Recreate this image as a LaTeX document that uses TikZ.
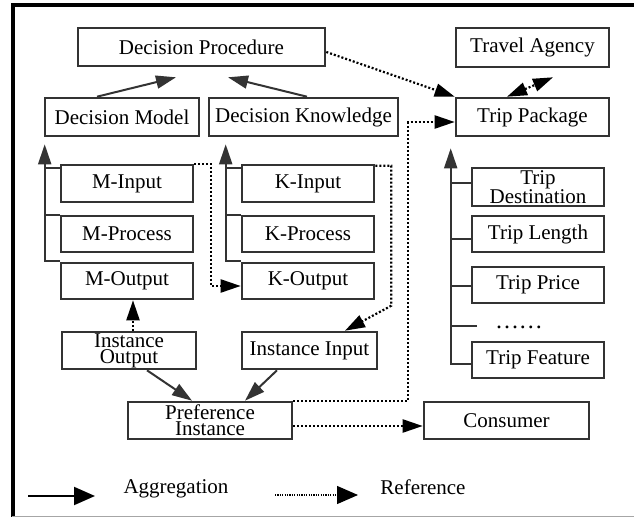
\documentclass[tikz,border=0pt]{standalone}
\usepackage{fontspec}
\setmainfont{Liberation Serif}
\usetikzlibrary{arrows.meta,calc}
\definecolor{edge}{HTML}{333333}
\tikzset{
  box/.style={draw=edge,line width=2.6pt,inner sep=0pt,align=center,
    font=\fontsize{21}{16}\selectfont},
  lbl/.style={inner sep=0pt,font=\fontsize{21}{16}\selectfont},
  agg/.style={draw=edge,line width=2pt,-{Triangle[length=20pt,width=13pt]}},
  stub/.style={draw=edge,line width=2pt},
  ref/.style={draw=black,line width=2.2pt,dash pattern=on 2pt off 2pt,
    -{Triangle[length=20pt,width=13pt]}},
  refboth/.style={ref,{Triangle[length=20pt,width=13pt]}-{Triangle[length=20pt,width=13pt]}},
  legagg/.style={draw=black,line width=2pt,-{Triangle[length=21pt,width=18pt]}},
  legref/.style={draw=black,line width=1.3pt,dash pattern=on 1.2pt off 1.2pt,
    -{Triangle[length=21pt,width=18pt]}},
}
\begin{document}
\begin{tikzpicture}[x=1pt,y=-1pt]
\useasboundingbox (0,0) rectangle (634,518);

% outer frame
\draw[black,line width=3.5pt] (634,5) -- (13,5) -- (13,517);
\draw[gray!70,line width=1.5pt] (12,516.5) -- (634,516.5);

% top row
\node[box,minimum width=247pt,minimum height=38pt] (DP) at (201.5,47) {Decision Procedure};
\node[box,minimum width=153pt,minimum height=39pt] (TA) at (532.5,47.5) {Travel Agency};

% second row
\node[box,minimum width=154pt,minimum height=38pt] (DM) at (122,117) {Decision Model};
\node[box,minimum width=189pt,minimum height=38pt] (DK) at (303.5,117) {Decision Knowledge};
\node[box,minimum width=153pt,minimum height=38pt] (TP) at (532.5,117) {Trip Package};

% model parts
\node[box,minimum width=132pt,minimum height=37pt] (MI) at (127,183.5) {M-Input};
\node[box,minimum width=132pt,minimum height=36pt] (MP) at (127,234) {M-Process};
\node[box,minimum width=132pt,minimum height=36pt] (MO) at (127,281) {M-Output};

% knowledge parts
\node[box,minimum width=132pt,minimum height=37pt] (KI) at (308,183.5) {K-Input};
\node[box,minimum width=132pt,minimum height=36pt] (KP) at (308,234) {K-Process};
\node[box,minimum width=132pt,minimum height=36pt] (KO) at (308,281) {K-Output};

% trip parts
\node[box,minimum width=132pt,minimum height=38pt] (TD) at (538,187) {Trip\\Destination};
\node[box,minimum width=132pt,minimum height=36pt] (TL) at (538,234) {Trip Length};
\node[box,minimum width=132pt,minimum height=36pt] (TR) at (538,285) {Trip Price};
\node[lbl,font=\fontsize{24}{16}\selectfont\addfontfeature{LetterSpace=8}] (dots) at (519,327) {......};
\node[box,minimum width=132pt,minimum height=36pt] (TF) at (538,360) {Trip Feature};

% instances
\node[box,minimum width=134pt,minimum height=37pt] (IO) at (129,350.5) {Instance\\Output};
\node[box,minimum width=135pt,minimum height=37pt] (II) at (309.5,350.5) {Instance Input};
\node[box,minimum width=164pt,minimum height=37pt] (PI) at (210,420.5) {Preference\\Instance};
\node[box,minimum width=165pt,minimum height=37pt] (CO) at (506.5,420.5) {Consumer};

% aggregation towards the decision procedure
\draw[agg] ([xshift=-25pt]DM.north) -- ([xshift=-25.5pt,yshift=-10pt]DP.south);
\draw[agg] ([xshift=3.5pt]DK.north) -- ([xshift=26.5pt,yshift=-10pt]DP.south);

% model tree
\draw[agg] ([yshift=1pt]MO.north west) -| ([xshift=1pt,yshift=-7pt]DM.south west);
\draw[stub] ([yshift=-4pt]MI.north west) -- ++(-15,0);
\draw[stub] (MP.north west) -- ++(-15,0);

% knowledge tree
\draw[agg] ([yshift=1pt]KO.north west) -| ([xshift=18pt,yshift=-7pt]DK.south west);
\draw[stub] ([yshift=-4pt]KI.north west) -- ++(-15,0);
\draw[stub] (KP.north west) -- ++(-15,0);

% trip tree
\draw[agg] ([yshift=-4pt]TF.west) -| ([xshift=-4pt,yshift=-11pt]TP.south west);
\draw[stub] ([yshift=4pt]TD.west) -- ++(-20,0);
\draw[stub] ([yshift=-5pt]TL.west) -- ++(-20,0);
\draw[stub] ([yshift=-1pt]TR.west) -- ++(-20,0);
\coordinate (dotstub) at (477,326);
\draw[stub] (dotstub) -- ++(-25,0);

% instances into the preference instance
\draw[agg] ([xshift=18pt]IO.south) -- ([xshift=-18pt]PI.north);
\draw[agg] ([xshift=-32.5pt]II.south) -- ([xshift=35pt]PI.north);

% references
\draw[ref] ([yshift=-5pt]DP.east) -- (TP.north west);
\draw[refboth] ([xshift=-25.5pt]TP.north) -- ([xshift=20.5pt,yshift=-9pt]TA.south);
\draw[ref] (PI.north east) -- ++(115,0) |- ([yshift=-5pt]TP.west);
\draw[ref] ([yshift=-5.5pt]PI.east) -- ([yshift=-5.5pt]CO.west);
\draw[ref] ([xshift=4pt]IO.north) -- ([xshift=6pt]MO.south);
\draw[ref] (MI.north east) -- ++(17,0) |- ([yshift=-5pt]KO.west);
\draw[ref] ([yshift=-2pt]KI.north east) -- ++(16,0) -- ++(0,140) -- ([xshift=35.5pt]II.north);

% legend
\coordinate (aggA) at (28,496);
\coordinate (aggB) at (95,496);
\draw[legagg] (aggA) -- (aggB);
\node[lbl] (aggtext) at (176,489) {Aggregation};
\coordinate (refA) at (275,495);
\coordinate (refB) at (358,495);
\draw[legref] (refA) -- (refB);
\node[lbl] (reftext) at (423,487) {Reference};
\end{tikzpicture}
\end{document}
